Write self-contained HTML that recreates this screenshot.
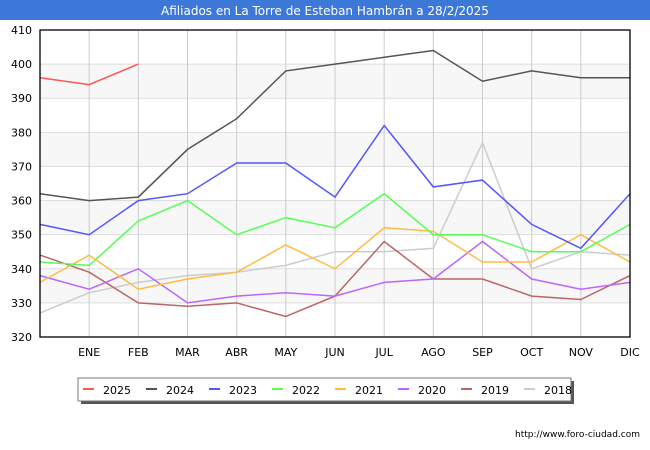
<!DOCTYPE html>
<html><head><meta charset="utf-8"><style>
body{margin:0;background:#fff;font-family:"Liberation Sans","DejaVu Sans",sans-serif}
#wrap{position:relative;width:650px;height:450px;overflow:hidden}
</style></head><body>
<div id="wrap">
<svg id="svg" width="650" height="450" xmlns="http://www.w3.org/2000/svg" font-family="'DejaVu Sans','Liberation Sans',sans-serif">
<rect x="0" y="0" width="650" height="20" fill="#3b78d8"/>
<text x="325" y="15" text-anchor="middle" fill="#fff" font-size="12">Afiliados en La Torre de Esteban Hambrán a 28/2/2025</text>
<g id="grid"></g>
<g id="series"></g>
<g id="axes"></g>
<text x="640" y="437" text-anchor="end" font-size="9" fill="#000">http://www.foro-ciudad.com</text>
<g id="legend"></g>
</svg>
</div>
<script>
const months=["","ENE","FEB","MAR","ABR","MAY","JUN","JUL","AGO","SEP","OCT","NOV","DIC"];
const yTicks=[320,330,340,350,360,370,380,390,400,410];
const years=["2025","2024","2023","2022","2021","2020","2019","2018"];
const colors=["#ff5555","#555555","#5555ff","#55ff55","#ffbb44","#bb66ff","#bb6666","#cccccc"];
const s2025=[396,394,400];
const s2024=[362,360,361,375,384,398,400,402,404,395,398,396,396];
const s2023=[353,350,360,362,371,371,361,382,364,366,353,346,362];
const s2022=[342,341,354,360,350,355,352,362,350,350,345,345,353];
const s2021=[336,344,334,337,339,347,340,352,351,342,342,350,342];
const s2020=[338,334,340,330,332,333,332,336,337,348,337,334,336];
const s2019=[344,339,330,329,330,326,332,348,337,337,332,331,338];
const s2018=[327,333,336,338,339,341,345,345,346,377,340,345,344];
const allSeries=[s2025,s2024,s2023,s2022,s2021,s2020,s2019,s2018];
const L=40,R=630,T=30,B=337,yMin=320,yMax=410;
const xs=i=>L+i*(R-L)/12;
const ys=v=>B-(v-yMin)*(B-T)/(yMax-yMin);
const NS="http://www.w3.org/2000/svg";
function mk(tag,attrs,parent){const e=document.createElementNS(NS,tag);for(const k in attrs)e.setAttribute(k,attrs[k]);parent.appendChild(e);return e;}
const grid=document.getElementById('grid'),axes=document.getElementById('axes'),ser=document.getElementById('series'),leg=document.getElementById('legend');
mk('rect',{x:L,y:T,width:R-L,height:B-T,fill:'#fff'},grid);
for(let i=0;i<yTicks.length-1;i++){
 if(i%2===1){const r=mk('rect',{x:L,y:ys(yTicks[i+1]),width:R-L,height:ys(yTicks[i])-ys(yTicks[i+1]),fill:'#f7f7f7'},grid);
 
 }
}
yTicks.forEach(v=>{
 const l=mk('line',{x1:L,x2:R,y1:ys(v),y2:ys(v),stroke:'#dddddd','stroke-width':1},grid);
 
 
 const t=mk('text',{x:L-8,y:ys(v)+4,'text-anchor':'end','font-size':11,fill:'#000'},axes);
 t.textContent=v;
 
 
});
months.forEach((m,i)=>{
 if(i===0)return;
 const l=mk('line',{x1:xs(i),x2:xs(i),y1:T,y2:B,stroke:'#cccccc','stroke-width':1},grid);
 
 
 const t=mk('text',{x:xs(i),y:356,'text-anchor':'middle','font-size':11,fill:'#000'},axes);
 t.textContent=m;
 
 
});
const fr=mk('rect',{x:L,y:T,width:R-L,height:B-T,fill:'none',stroke:'#000','stroke-width':1.3},axes);


for(let k=allSeries.length-1;k>=0;k--){
 const d=allSeries[k].map((v,i)=>(i?'L':'M')+xs(i).toFixed(1)+' '+ys(v).toFixed(1)).join(' ');
 const p=mk('path',{d:d,fill:'none',stroke:colors[k],'stroke-width':1.5},ser);
 
 
}
const lb=mk('rect',{x:81,y:381,width:493,height:23,fill:'#555'},leg);


const lr=mk('rect',{x:78,y:378,width:493,height:23,fill:'#fff',stroke:'#777','stroke-width':1},leg);


years.forEach((y,k)=>{
 const x0=83+k*63;
 const sw=mk('rect',{x:x0,y:388,width:11,height:2,fill:colors[k]},leg);
 
 
 const t=mk('text',{x:x0+20,y:394,'font-size':11,fill:'#000'},leg);
 t.textContent=y;
 
 
});
</script>
</body></html>
